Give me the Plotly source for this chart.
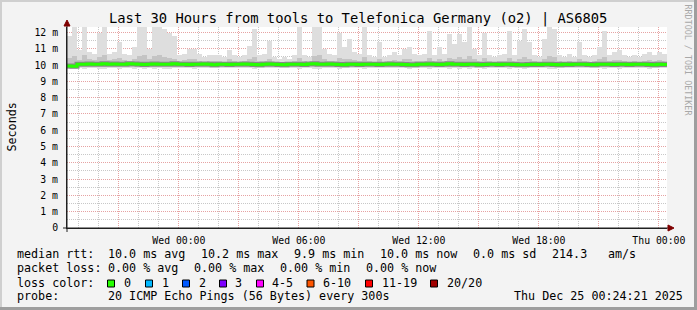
import numpy as np
import pandas as pd
import plotly.graph_objects as go

# ---------------- data ----------------
start = pd.Timestamp("2025-12-23 18:24:21")
end = pd.Timestamp("2025-12-25 00:24:21")
step_minutes = 15

median_rtt = [
    9.95, 9.93, 10.05, 10.06, 10.07, 10.06, 10.05, 10.08, 10.06, 10.07,
    10.05, 10.06, 10.08, 10.07, 10.05, 10.04, 10.06, 10.07, 10.06, 10.05,
    10.06, 10.08, 10.06, 10.05, 10.04, 10.06, 10.05, 10.07, 10.05, 10.03,
    10.05, 10.06, 10.04, 10.05, 10.06, 10.07, 10.05, 10.04, 10.02, 10.06,
    10.07, 10.05, 10.04, 10.03, 10.05, 10.06, 10.05, 10.04, 10.07, 10.08,
    10.06, 10.05, 10.07, 10.06, 10.04, 10.03, 10.05, 10.06, 10.04, 10.05,
    10.06, 10.05, 10.04, 10.06, 10.07, 10.05, 10.06, 10.04, 10.02, 10.03,
    10.05, 10.06, 10.07, 10.05, 10.04, 10.06, 10.08, 10.06, 10.05, 10.04,
    10.06, 10.05, 10.03, 10.04, 10.06, 10.05, 10.04, 10.05, 10.06, 10.04,
    10.03, 10.02, 10.04, 10.05, 10.04, 10.06, 10.05, 10.04, 10.03, 10.05,
    10.04, 10.05, 10.06, 10.05, 10.04, 10.03, 10.05, 10.06, 10.05, 10.04,
    10.05, 10.06, 10.04, 10.05, 10.06, 10.05, 10.04, 10.03, 10.05, 10.04,
]

smoke_min = [
    9.78, 9.74, 9.80, 9.79, 9.82, 9.80, 9.77, 9.79, 9.81, 9.80,
    9.79, 9.82, 9.80, 9.78, 9.80, 9.79, 9.81, 9.78, 9.80, 9.77,
    9.79, 9.81, 9.82, 9.80, 9.81, 9.79, 9.82, 9.83, 9.81, 9.82,
    9.80, 9.82, 9.81, 9.83, 9.82, 9.80, 9.81, 9.79, 9.82, 9.81,
    9.80, 9.83, 9.82, 9.81, 9.83, 9.82, 9.79, 9.81, 9.82, 9.78,
    9.79, 9.81, 9.82, 9.80, 9.79, 9.81, 9.80, 9.82, 9.81, 9.78,
    9.82, 9.83, 9.80, 9.82, 9.81, 9.80, 9.82, 9.81, 9.79, 9.80,
    9.82, 9.81, 9.78, 9.82, 9.80, 9.81, 9.79, 9.80, 9.78, 9.80,
    9.77, 9.80, 9.82, 9.79, 9.81, 9.82, 9.80, 9.81, 9.78, 9.82,
    9.80, 9.78, 9.80, 9.82, 9.83, 9.80, 9.77, 9.79, 9.81, 9.82,
    9.81, 9.82, 9.80, 9.81, 9.82, 9.81, 9.80, 9.78, 9.81, 9.80,
    9.79, 9.81, 9.82, 9.80, 9.81, 9.80, 9.79, 9.81, 9.80, 9.81,
]

smoke_q1 = [
    9.92, 9.88, 9.95, 9.96, 9.95, 9.94, 9.93, 9.95, 9.96, 9.95,
    9.94, 9.96, 9.95, 9.93, 9.94, 9.93, 9.95, 9.94, 9.95, 9.93,
    9.94, 9.95, 9.96, 9.95, 9.96, 9.94, 9.96, 9.97, 9.95, 9.96,
    9.95, 9.96, 9.95, 9.97, 9.96, 9.95, 9.95, 9.94, 9.96, 9.95,
    9.95, 9.97, 9.96, 9.95, 9.97, 9.96, 9.94, 9.95, 9.96, 9.93,
    9.94, 9.95, 9.96, 9.95, 9.94, 9.95, 9.95, 9.96, 9.95, 9.93,
    9.96, 9.97, 9.95, 9.96, 9.95, 9.95, 9.96, 9.95, 9.94, 9.95,
    9.96, 9.95, 9.93, 9.96, 9.95, 9.95, 9.94, 9.95, 9.93, 9.95,
    9.93, 9.95, 9.96, 9.94, 9.95, 9.96, 9.95, 9.95, 9.93, 9.96,
    9.95, 9.93, 9.95, 9.96, 9.97, 9.95, 9.93, 9.94, 9.95, 9.96,
    9.95, 9.96, 9.95, 9.95, 9.96, 9.95, 9.95, 9.93, 9.95, 9.95,
    9.94, 9.95, 9.96, 9.95, 9.95, 9.95, 9.94, 9.95, 9.95, 9.95,
]

smoke_q3 = [
    10.45, 10.55, 10.30, 10.60, 10.35, 10.30, 10.50, 10.65, 10.30, 10.35,
    10.45, 10.30, 10.25, 10.40, 10.55, 10.60, 10.35, 10.55, 10.65, 10.50,
    10.45, 10.40, 10.25, 10.30, 10.35, 10.40, 10.28, 10.22, 10.25, 10.24,
    10.25, 10.22, 10.35, 10.24, 10.20, 10.25, 10.38, 10.50, 10.26, 10.28,
    10.40, 10.22, 10.18, 10.22, 10.18, 10.25, 10.45, 10.26, 10.22, 10.55,
    10.60, 10.35, 10.28, 10.24, 10.45, 10.35, 10.40, 10.30, 10.26, 10.50,
    10.24, 10.22, 10.38, 10.22, 10.25, 10.30, 10.24, 10.35, 10.36, 10.28,
    10.24, 10.28, 10.45, 10.25, 10.35, 10.28, 10.45, 10.38, 10.48, 10.40,
    10.55, 10.35, 10.25, 10.45, 10.24, 10.22, 10.25, 10.28, 10.45, 10.24,
    10.40, 10.50, 10.38, 10.25, 10.22, 10.40, 10.55, 10.50, 10.25, 10.22,
    10.28, 10.22, 10.38, 10.24, 10.22, 10.25, 10.35, 10.48, 10.25, 10.30,
    10.32, 10.25, 10.22, 10.24, 10.22, 10.28, 10.30, 10.25, 10.30, 10.28,
]

smoke_max = [
    11.8, 12.4, 10.9, 12.4, 10.8, 10.7, 12.0, 12.4, 10.7, 10.8,
    11.4, 10.7, 10.6, 11.1, 12.4, 12.4, 11.0, 12.4, 12.4, 12.2,
    12.0, 11.8, 10.6, 10.7, 11.0, 11.0, 10.7, 10.5, 10.6, 10.6,
    10.6, 10.5, 10.9, 10.6, 10.5, 10.6, 11.2, 12.2, 10.6, 10.7,
    11.5, 10.5, 10.4, 10.5, 10.4, 10.6, 12.4, 10.6, 10.5, 12.4,
    12.4, 11.0, 10.7, 10.6, 12.0, 11.1, 11.6, 10.8, 10.7, 12.4,
    10.6, 10.5, 11.4, 10.5, 10.6, 10.8, 10.6, 11.0, 11.1, 10.7,
    10.6, 10.7, 12.1, 10.6, 11.1, 10.7, 11.9, 11.3, 11.9, 11.4,
    12.4, 11.0, 10.6, 12.0, 10.6, 10.5, 10.6, 10.7, 12.1, 10.6,
    11.5, 12.2, 11.4, 10.6, 10.5, 11.6, 12.4, 12.2, 10.6, 10.5,
    10.7, 10.5, 11.4, 10.6, 10.5, 10.6, 11.1, 12.1, 10.6, 10.8,
    10.9, 10.6, 10.5, 10.6, 10.5, 10.7, 10.8, 10.6, 10.8, 10.7,
]

y_tick_vals = list(range(13))
y_tick_text = ["0"] + [f"{v} m" for v in range(1, 13)]

title_text = "Last 30 Hours from tools to Telefonica Germany (o2) | AS6805"
rtt_avg, rtt_max, rtt_min, rtt_now, rtt_sd, am_s = 10.0, 10.2, 9.9, 10.0, 0.0, 214.3
loss_avg, loss_max, loss_min, loss_now = 0.00, 0.00, 0.00, 0.00
loss_labels = ["0", "1", "2", "3", "4-5", "6-10", "11-19", "20/20"]
loss_colors = ["#26ff00", "#00b8ff", "#0059ff", "#7e00ff", "#ff00ff", "#ff5500", "#ff0000", "#a10000"]
probe_text = "20 ICMP Echo Pings (56 Bytes) every 300s"
stamp_text = "Thu Dec 25 00:24:21 2025"

# ---------------- geometry ----------------
W, H = 697, 310
L, R, T, B = 67, 667, 27, 228
MONO = "DejaVu Sans Mono"


def px(x):
    return (x - L) / (R - L)


def py(y):
    return (B - y) / (B - T)


n = len(median_rtt)
step = pd.Timedelta(minutes=step_minutes)
t_left = start + step * np.arange(n)
t_mid = t_left + step / 2
bar_w = step / pd.Timedelta(milliseconds=1)

s_min = np.array(smoke_min)
s_q1 = np.array(smoke_q1)
s_q3 = np.array(smoke_q3)
s_max = np.array(smoke_max)

fig = go.Figure()
fig.add_trace(go.Bar(x=t_mid, y=s_max - s_min, base=s_min, width=bar_w,
                     marker=dict(color="#dedede", line=dict(width=0)), hoverinfo="skip"))
fig.add_trace(go.Bar(x=t_mid, y=s_q3 - s_q1, base=s_q1, width=bar_w,
                     marker=dict(color="#c4c4c4", line=dict(width=0)), hoverinfo="skip"))

t_line = list(t_left) + [end]
m_line = list(median_rtt) + [median_rtt[-1]]
fig.add_trace(go.Scatter(x=t_line, y=m_line, mode="lines", line=dict(color="#888888", width=5, shape="hv"),
                         hoverinfo="skip"))
fig.add_trace(go.Scatter(x=t_line, y=m_line, mode="lines", line=dict(color="#26ff00", width=3, shape="hv"),
                         hoverinfo="skip"))
# helper trace for the 3-hour major grid axis
fig.add_trace(go.Scatter(x=[start, end], y=[None, None], xaxis="x2", mode="lines", hoverinfo="skip"))

minor_grid = "#c8c8c8"
major_grid = "#e6a3a3"

fig.update_layout(
    width=W, height=H, autosize=False,
    margin=dict(l=L, r=W - R, t=T, b=H - B, pad=0),
    paper_bgcolor="#f3f3f3", plot_bgcolor="#ffffff",
    showlegend=False, barmode="overlay", bargap=0,
    font=dict(family=MONO, color="#000000"),
    xaxis=dict(
        type="date", range=[start, end], tickformat="%a %H:%M",
        tick0="2025-12-24 00:00:00", dtick=6 * 3600 * 1000,
        showgrid=False, zeroline=False, showline=True, linecolor="#202020", linewidth=1,
        ticks="", ticklabelstandoff=3,
        tickfont=dict(family=MONO, size=9.8, color="#000000"),
        minor=dict(dtick=3600 * 1000, tick0="2025-12-24 00:00:00", showgrid=True,
                   gridcolor=minor_grid, griddash="1px,1px", gridwidth=1),
    ),
    xaxis2=dict(
        type="date", range=[start, end], overlaying="x", anchor="y",
        tick0="2025-12-24 00:00:00", dtick=3 * 3600 * 1000,
        showgrid=True, gridcolor=major_grid, griddash="1px,1px", gridwidth=1,
        showticklabels=False, ticks="", zeroline=False, showline=False,
    ),
    yaxis=dict(
        range=[0, 12.34], tickmode="array", tickvals=y_tick_vals, ticktext=y_tick_text,
        showgrid=True, gridcolor=major_grid, griddash="1px,1px", gridwidth=1,
        zeroline=False, showline=True, linecolor="#202020", linewidth=1,
        ticks="", ticklabelstandoff=6,
        tickfont=dict(family=MONO, size=9.8, color="#000000"),
        minor=dict(dtick=0.5, tick0=0, showgrid=True, gridcolor=minor_grid,
                   griddash="1px,1px", gridwidth=1),
    ),
)

ann = []


def text(s, x, y, size=11.7, anchor="left", color="#000000", angle=0):
    ann.append(dict(text=s, x=px(x), y=py(y), xref="paper", yref="paper", showarrow=False,
                    xanchor=anchor, yanchor="middle", borderpad=0, textangle=angle,
                    font=dict(family=MONO, size=size, color=color)))


text(title_text, 358, 19, size=13.8, anchor="center")
text("Seconds", 11, 127.5, size=11.7, anchor="center", angle=-90)
text("RRDTOOL / TOBI OETIKER", 687.5, 60, size=8.4, anchor="center", color="#a8a8a8", angle=90)

y1, y2, y3, y4 = 254, 268, 282.5, 296
text("median rtt:", 16, y1)
text(f"{rtt_avg:.1f} ms avg", 107.3, y1)
text(f"{rtt_max:.1f} ms max", 200.3, y1)
text(f"{rtt_min:.1f} ms min", 293.3, y1)
text(f"{rtt_now:.1f} ms now", 379.3, y1)
text(f"{rtt_sd:.1f} ms sd", 472.3, y1)
text(f"{am_s:.1f}", 551.3, y1)
text("am/s", 607.3, y1)

text("packet loss:", 16, y2)
text(f"{loss_avg:.2f} % avg", 107.3, y2)
text(f"{loss_max:.2f} % max", 193.3, y2)
text(f"{loss_min:.2f} % min", 279.3, y2)
text(f"{loss_now:.2f} % now", 365.3, y2)

text("loss color:", 16, y3)
box_x = [107.5, 145.5, 182.5, 219.5, 256.5, 307, 365.5, 430.5]
lab_x = [123.3, 160.7, 197.7, 234.3, 271.3, 322, 380.7, 446]
shapes = []
for lbl, col, bx, lx in zip(loss_labels, loss_colors, box_x, lab_x):
    shapes.append(dict(type="rect", xref="paper", yref="paper",
                       x0=px(bx), x1=px(bx + 7), y0=py(287), y1=py(280),
                       fillcolor=col, line=dict(color="#000000", width=1)))
    text(lbl, lx, y3)

text("probe:", 16, y4)
text(probe_text, 107.3, y4)
text(stamp_text, 513.3, y4)

# axis extensions and arrows
shapes.append(dict(type="line", xref="paper", yref="paper", x0=px(63), x1=px(669), y0=py(B), y1=py(B),
                   line=dict(color="#202020", width=1)))
shapes.append(dict(type="line", xref="paper", yref="paper", x0=px(L), x1=px(L), y0=py(232), y1=py(24),
                   line=dict(color="#202020", width=1)))
shapes.append(dict(type="path", xref="paper", yref="paper",
                   path=f"M {px(L - 3)} {py(26)} L {px(L + 3)} {py(26)} L {px(L)} {py(20)} Z",
                   fillcolor="#7f0000", line=dict(color="#7f0000", width=1)))
shapes.append(dict(type="path", xref="paper", yref="paper",
                   path=f"M {px(668)} {py(B - 3)} L {px(668)} {py(B + 3)} L {px(674)} {py(B)} Z",
                   fillcolor="#7f0000", line=dict(color="#7f0000", width=1)))
# 3D border of the image
shapes.append(dict(type="line", xref="paper", yref="paper", x0=px(0), x1=px(W), y0=py(1), y1=py(1),
                   line=dict(color="#cfcfcf", width=2)))
shapes.append(dict(type="line", xref="paper", yref="paper", x0=px(1), x1=px(1), y0=py(0), y1=py(H),
                   line=dict(color="#cfcfcf", width=2)))
shapes.append(dict(type="line", xref="paper", yref="paper", x0=px(0), x1=px(W), y0=py(H - 1.5), y1=py(H - 1.5),
                   line=dict(color="#9e9e9e", width=3)))
shapes.append(dict(type="line", xref="paper", yref="paper", x0=px(W - 1.5), x1=px(W - 1.5), y0=py(0), y1=py(H),
                   line=dict(color="#9e9e9e", width=3)))

fig.update_layout(annotations=ann, shapes=shapes)

fig.write_html("out.html", config={"displayModeBar": False})
